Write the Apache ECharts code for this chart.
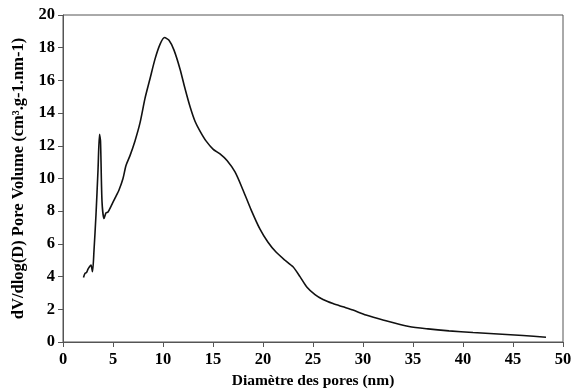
<!DOCTYPE html>
<html>
<head>
<meta charset="utf-8">
<script src="https://cdn.jsdelivr.net/npm/echarts@6/dist/echarts.min.js"></script>
<style>
  html, body { margin: 0; padding: 0; background: #fff; }
  #chart { width: 571px; height: 392px; }
</style>
</head>
<body>
<div id="chart"></div>
<script>
// pore diameter (nm)
const diameter = [2.05, 2.2, 2.35, 2.5, 2.65, 2.8, 2.95, 3.1, 3.3, 3.5, 3.65, 3.75, 3.9, 4.1, 4.3, 4.5, 4.8, 5.2, 5.6, 6.0,
  6.3, 6.7, 7.2, 7.7, 8.2, 8.7, 9.2, 9.7, 10.15, 10.6, 11.1, 11.7, 12.2, 12.7, 13.2, 13.7, 14.3, 15.0, 15.7, 16.4,
  17.2, 18.0, 18.8, 19.7, 20.5, 21.3, 22.2, 23.0, 23.7, 24.4, 25.2, 26.0, 27.0, 28.0, 29.0, 30.3, 32.0, 34.6, 36.5, 38.6,
  41, 43.5, 46, 48.3]
// dV/dlog(D)
const poreVolume = [3.95, 4.2, 4.25, 4.45, 4.6, 4.7, 4.3, 5.6, 7.8, 10.5, 12.7, 12.3, 8.6, 7.55, 7.9, 7.95, 8.3, 8.8, 9.3, 10.0,
  10.8, 11.4, 12.3, 13.4, 14.9, 16.1, 17.3, 18.2, 18.62, 18.45, 17.85, 16.7, 15.5, 14.4, 13.5, 12.9, 12.3, 11.8, 11.5, 11.1,
  10.4, 9.3, 8.1, 6.9, 6.1, 5.5, 5.0, 4.6, 4.0, 3.35, 2.9, 2.6, 2.35, 2.15, 1.95, 1.65, 1.35, 0.95, 0.8, 0.68,
  0.58, 0.49, 0.4, 0.29]

const xTitle = 'Diamètre des pores (nm)'
const yTitle = 'dV/dlog(D) Pore Volume (cm³.g-1.nm-1)'

const font = { fontFamily: 'Liberation Serif', fontWeight: 'bold', color: '#000' }
const axisCol = '#555'

const chart = echarts.init(document.getElementById('chart'))
chart.setOption({
  backgroundColor: '#fff',
  animation: false,
  grid: {
    left: 63, right: 8, top: 15, bottom: 50,
    outerBoundsMode: 'none',
    show: true, borderColor: axisCol, borderWidth: 1
  },
  xAxis: {
    type: 'value',
    min: 0, max: 50, interval: 5,
    name: xTitle,
    nameLocation: 'middle',
    nameGap: 30,
    nameTextStyle: Object.assign({ fontSize: 15.5 }, font),
    axisLine: { show: true, lineStyle: { color: axisCol } },
    axisTick: { show: true, length: 5, lineStyle: { color: axisCol } },
    axisLabel: Object.assign({ fontSize: 16.5, margin: 9 }, font),
    splitLine: { show: false }
  },
  yAxis: {
    type: 'value',
    min: 0, max: 20, interval: 2,
    name: yTitle,
    nameLocation: 'middle',
    nameGap: 36,
    nameTextStyle: Object.assign({ fontSize: 16.5 }, font),
    axisLine: { show: true, lineStyle: { color: axisCol } },
    axisTick: { show: true, length: 5, lineStyle: { color: axisCol } },
    axisLabel: Object.assign({ fontSize: 16.5, margin: 8 }, font),
    splitLine: { show: false }
  },
  series: [{
    type: 'line',
    data: diameter.map((d, i) => [d, poreVolume[i]]),
    smooth: 0.25,
    showSymbol: false,
    lineStyle: { color: '#111', width: 1.6 }
  }]
})
</script>
</body>
</html>
